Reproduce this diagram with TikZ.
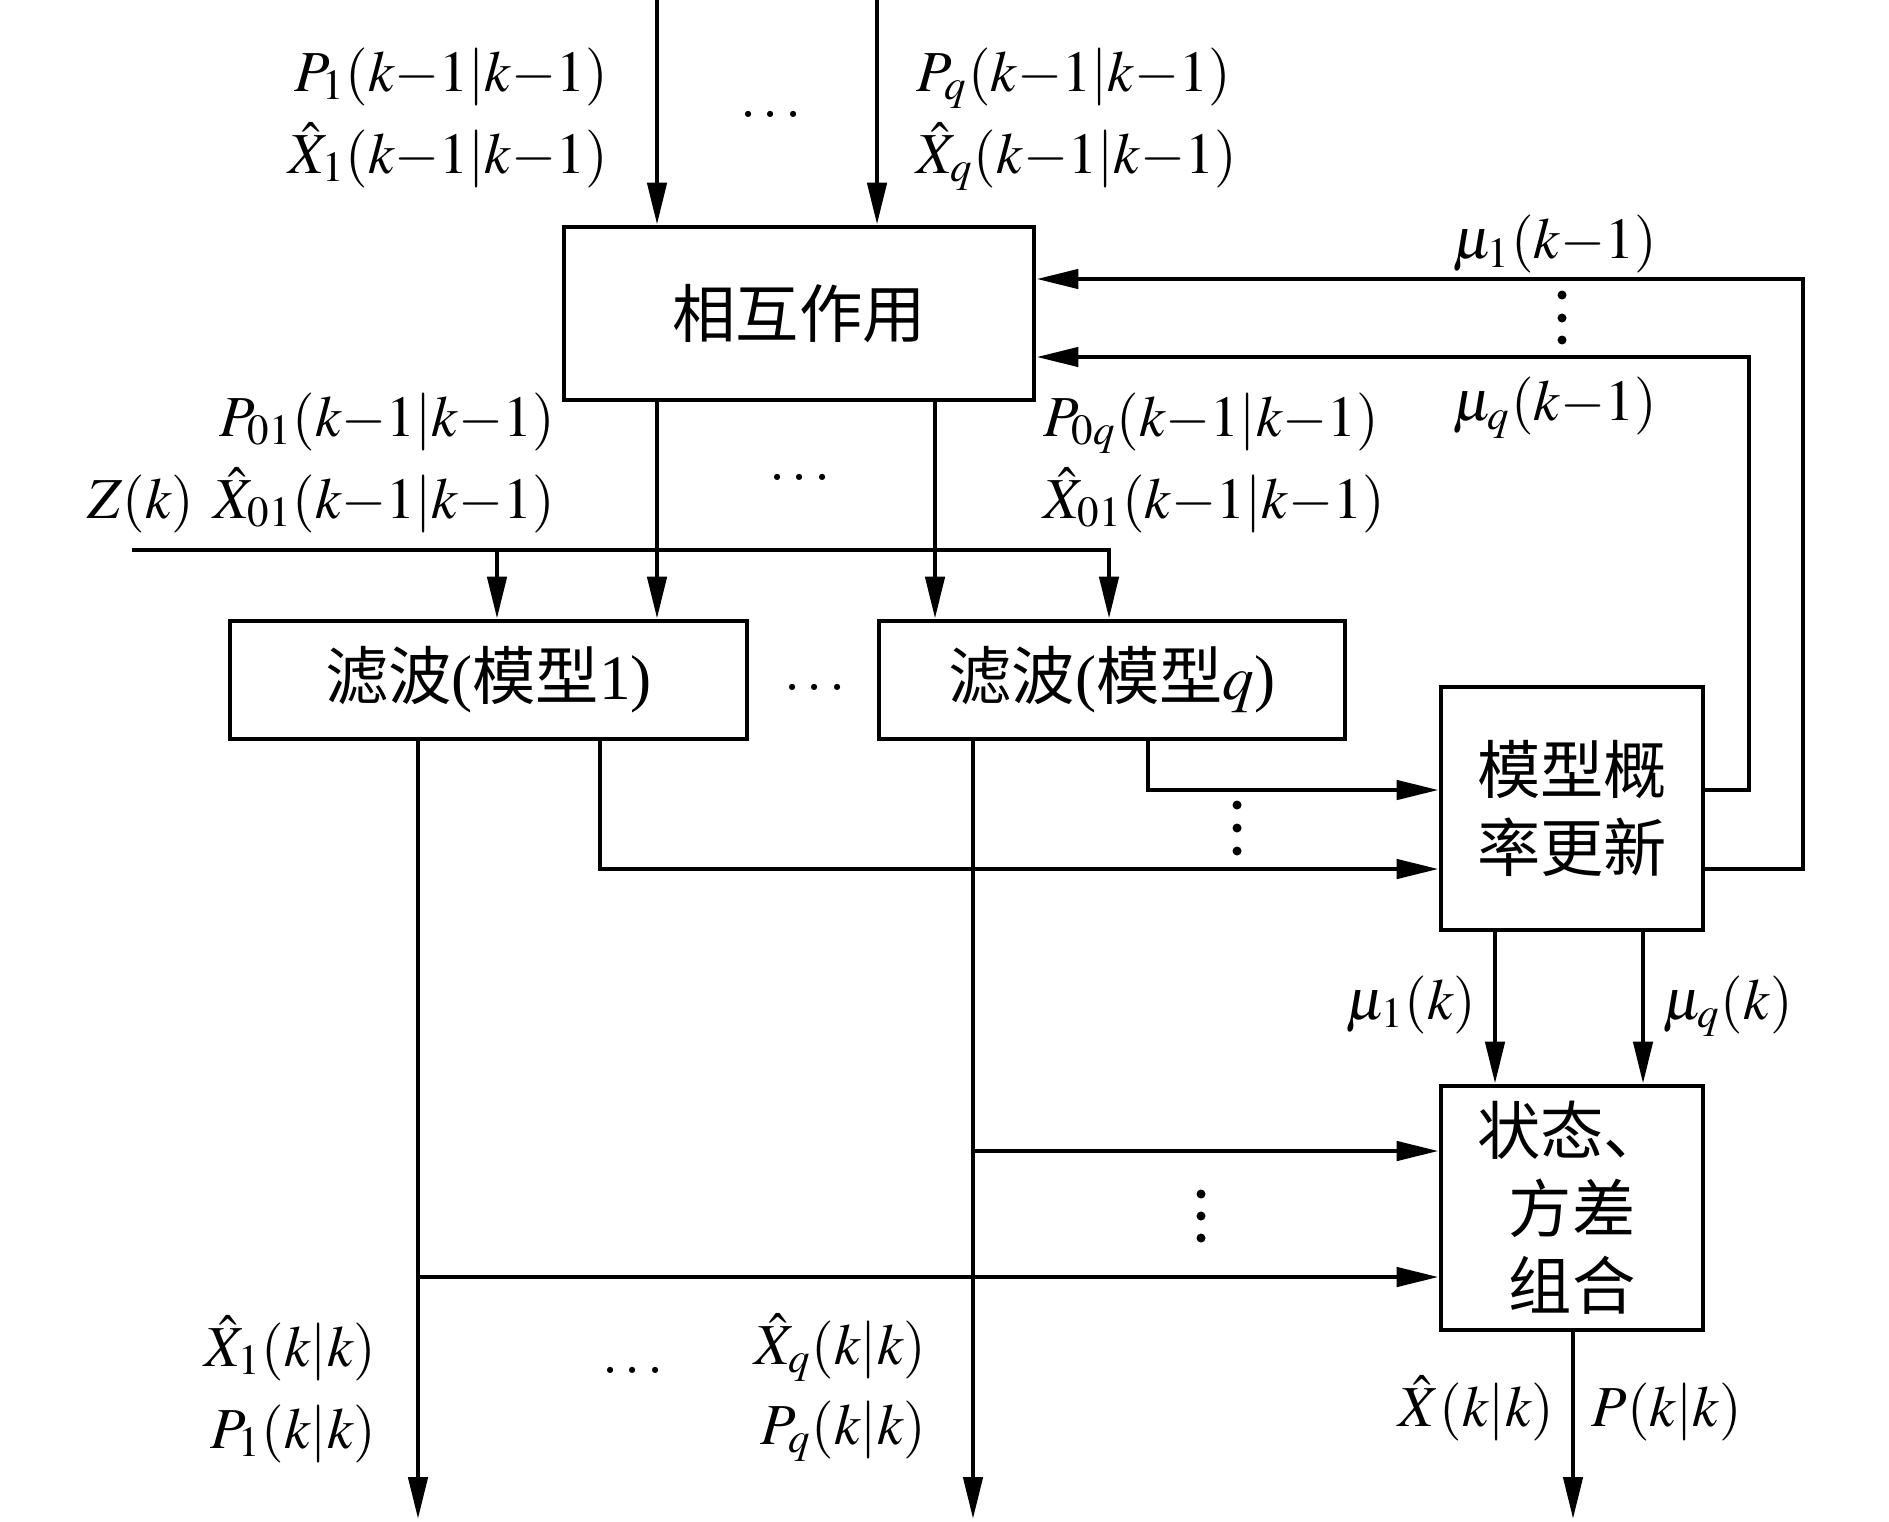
\documentclass[tikz,border=0pt]{standalone}
\usepackage{mathptmx}
\usepackage{fontspec}
\setmainfont{Liberation Serif}
\newfontfamily\cjk{Noto Sans CJK SC}
\newcommand\zhs[1]{{\cjk #1}}
\usetikzlibrary{arrows.meta}
\begin{document}
\begin{tikzpicture}[x=0.01cm,y=-0.01cm,
  box/.style={draw, line width=1.3pt, inner sep=0, font=\fontsize{18}{22}\selectfont, align=center},
  lab/.style={inner sep=0, font=\fontsize{16.5}{19}\selectfont},
  ln/.style={line width=1.3pt},
  arr/.style={line width=1.3pt, -{Triangle[length=0.42cm,width=0.19cm]}},
  vdot/.style={fill=black, draw=none}]
\useasboundingbox (0,0) rectangle (1889,1521);

% boxes
\node[box, minimum width=4.70cm, minimum height=1.73cm] (ia) at (799,313.5) {\zhs{相互作用}};
\node[box, minimum width=5.17cm, minimum height=1.18cm] (f1) at (488.5,680) {\zhs{滤波}(\zhs{模型}1)};
\node[box, minimum width=4.66cm, minimum height=1.18cm] (fq) at (1112,680) {\zhs{滤波}(\zhs{模型}$q$)};
\node[box, minimum width=2.62cm, minimum height=2.43cm] (mp) at (1572,808.5) {\zhs{模型概}\\\zhs{率更新}};
\node[box, minimum width=2.62cm, minimum height=2.44cm] (cb) at (1572,1208) {\zhs{状态、}\\\zhs{方差}\\\zhs{组合}};

% coordinates
\coordinate (in1) at (657,0);
\coordinate (inq) at (877,0);
\coordinate (cq) at (935,0);
\coordinate (zin) at (132,550);
\coordinate (z1) at (497,550);
\coordinate (zq) at (1109,550);
\coordinate (a1) at (418,1519);
\coordinate (aq) at (973,1519);
\coordinate (b1) at (600,869);
\coordinate (bq) at (1148,790);
\coordinate (j1) at (418,1277);
\coordinate (jq) at (973,1151);
\coordinate (m1) at (1495,0);
\coordinate (mq) at (1643,0);
\coordinate (out) at (1573,1519);
\coordinate (r1) at (1803,869);
\coordinate (r1t) at (1803,279);
\coordinate (rq) at (1749,790);
\coordinate (rqt) at (1749,357);

% connectors
\draw[arr] (in1) -- (in1 |- ia.north);
\draw[arr] (inq) -- (inq |- ia.north);
\draw[arr] (ia.south -| in1) -- (f1.north -| in1);
\draw[arr] (ia.south -| cq) -- (fq.north -| cq);
\draw[arr] (zin) -| (fq.north -| zq);
\draw[arr] (z1) -- (f1.north -| z1);
\draw[arr] (f1.south -| a1) -- (a1);
\draw[arr] (fq.south -| aq) -- (aq);
\draw[arr] (f1.south -| b1) -- (b1) -- (mp.west |- b1);
\draw[arr] (fq.south -| bq) -- (bq) -- (mp.west |- bq);
\draw[arr] (j1) -- (cb.west |- j1);
\draw[arr] (jq) -- (cb.west |- jq);
\draw[arr] (mp.south -| m1) -- (cb.north -| m1);
\draw[arr] (mp.south -| mq) -- (cb.north -| mq);
\draw[arr] (cb.south -| out) -- (out);
\draw[arr] (mp.east |- r1) -- (r1) -- (r1t) -- (ia.east |- r1t);
\draw[arr] (mp.east |- rq) -- (rq) -- (rqt) -- (ia.east |- rqt);

% labels
\node[lab, anchor=mid east] (lp1) at (609,83) {$P_1(k{-}1|k{-}1)$};
\node[lab, anchor=mid east] (lx1) at (609,165) {$\hat{X}_1(k{-}1|k{-}1)$};
\node[lab, anchor=base] (dt) at (771,117) {$\ldots$};
\node[lab, anchor=mid west] (lpq) at (916,83) {$P_q(k{-}1|k{-}1)$};
\node[lab, anchor=mid west] (lxq) at (916,165) {$\hat{X}_q(k{-}1|k{-}1)$};
\node[lab] (mu1a) at (1555,244) {$\mu_1(k{-}1)$};
\node[lab] (muqa) at (1555,408) {$\mu_q(k{-}1)$};
\node[lab, anchor=mid east] (lp01) at (556,428) {$P_{01}(k{-}1|k{-}1)$};
\node[lab, anchor=mid east] (lx01) at (556,510) {$\hat{X}_{01}(k{-}1|k{-}1)$};
\node[lab, anchor=mid east] (lz) at (195,510) {$Z(k)$};
\node[lab, anchor=base] (dm) at (800,480) {$\ldots$};
\node[lab, anchor=mid west] (lp0q) at (1043,428) {$P_{0q}(k{-}1|k{-}1)$};
\node[lab, anchor=mid west] (lx0q) at (1043,510) {$\hat{X}_{01}(k{-}1|k{-}1)$};
\node[lab, anchor=base] (df) at (815,690) {$\ldots$};
\node[lab, anchor=mid east] (mu1k) at (1477,1011) {$\mu_1(k)$};
\node[lab, anchor=mid west] (muqk) at (1662,1011) {$\mu_q(k)$};
\node[lab, anchor=mid east] (lxk1) at (377,1358) {$\hat{X}_1(k|k)$};
\node[lab, anchor=mid east] (lpk1) at (377,1440) {$P_1(k|k)$};
\node[lab, anchor=base] (db) at (633,1373) {$\ldots$};
\node[lab, anchor=mid east] (lxkq) at (927,1356) {$\hat{X}_q(k|k)$};
\node[lab, anchor=mid east] (lpkq) at (927,1436) {$P_q(k|k)$};
\node[lab, anchor=mid east] (lxk) at (1555,1418) {$\hat{X}(k|k)$};
\node[lab, anchor=mid west] (lpk) at (1591,1418) {$P(k|k)$};

% vertical dots
\foreach \yy in {295,318,340} \fill[vdot] (1562,\yy) circle[radius=0.045cm];
\foreach \yy in {805,828,851} \fill[vdot] (1237,\yy) circle[radius=0.045cm];
\foreach \yy in {1194,1216,1238} \fill[vdot] (1201,\yy) circle[radius=0.045cm];
\end{tikzpicture}
\end{document}
